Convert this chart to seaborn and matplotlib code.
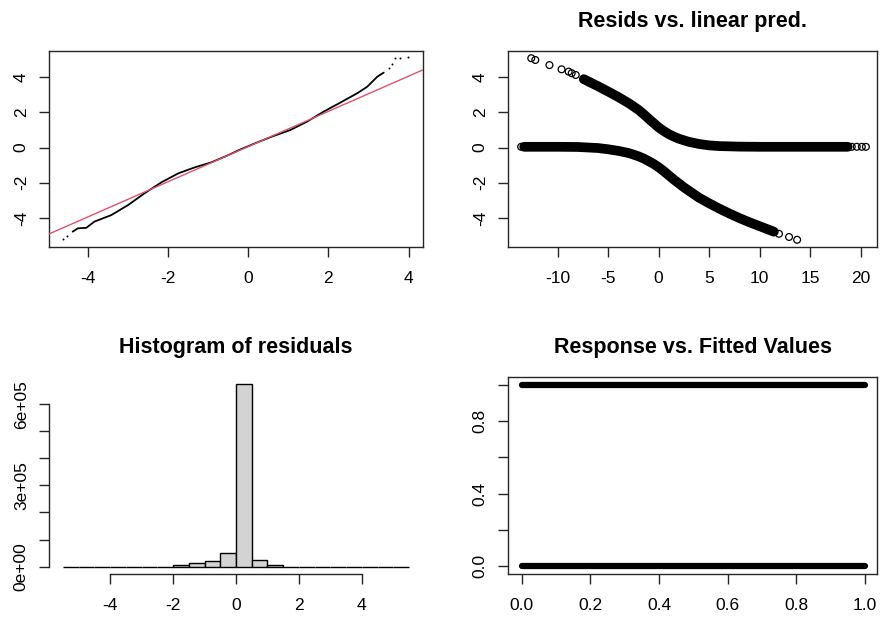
import matplotlib
matplotlib.use("Agg")
import matplotlib.pyplot as plt
import seaborn as sns

# ---------------- data ----------------
# Panel 1: QQ plot of deviance residuals
qq_theoretical = [-4.37, -4.24, -4.03, -3.83, -3.41, -2.99, -2.58, -2.16, -1.74, -1.33,
                  -0.91, -0.49, -0.20, 0.20, 0.63, 1.05, 1.47, 1.88, 2.30, 2.72,
                  2.97, 3.22, 3.38]
qq_sample = [-4.78, -4.59, -4.56, -4.21, -3.84, -3.27, -2.60, -1.98, -1.47, -1.13,
             -0.84, -0.43, -0.12, 0.26, 0.65, 0.99, 1.47, 2.03, 2.55, 3.08,
             3.45, 4.02, 4.25]
qq_tail_theoretical = [-4.62, -4.51, 3.51, 3.59, 3.65, 3.78, 3.98]
qq_tail_sample = [-5.20, -5.03, 4.50, 4.74, 5.07, 5.07, 5.13]
qq_ref_intercept = 0.05
qq_ref_slope = 1.0

# Panel 2: residuals vs linear predictor
eta_upper = [-7.4, -6.0, -5.0, -4.0, -3.0, -2.5, -2.0, -1.5, -1.0, -0.5, 0.0, 0.5,
             1.0, 1.5, 2.0, 3.0, 4.0, 5.0, 6.0, 8.0, 10.0, 12.0, 15.0, 18.7]
resid_upper = [3.88, 3.48, 3.18, 2.87, 2.53, 2.34, 2.14, 1.90, 1.64, 1.39, 1.14, 0.94,
               0.76, 0.62, 0.50, 0.32, 0.20, 0.12, 0.08, 0.05, 0.04, 0.04, 0.04, 0.04]
eta_lower = [-13.3, -10.0, -8.0, -6.0, -5.0, -4.0, -3.0, -2.5, -2.0, -1.5, -1.0, -0.5,
             0.0, 0.5, 1.0, 1.5, 2.0, 2.5, 3.0, 4.0, 5.0, 6.0, 7.0, 8.0, 9.0, 10.0, 11.4]
resid_lower = [0.04, 0.04, 0.03, -0.03, -0.10, -0.19, -0.31, -0.40, -0.50, -0.62, -0.77, -0.93,
               -1.12, -1.34, -1.58, -1.82, -2.04, -2.26, -2.46, -2.85, -3.17, -3.47, -3.75,
               -4.01, -4.25, -4.47, -4.78]
eta_outlier = [-12.6, -12.2, -10.8, -9.6, -8.9, -8.6, -8.2, -13.6,
               19.1, 19.6, 20.1, 20.5, 11.9, 12.9, 13.7]
resid_outlier = [5.07, 4.97, 4.68, 4.44, 4.31, 4.22, 4.12, 0.04,
                 0.04, 0.04, 0.04, 0.04, -4.90, -5.08, -5.24]

# Panel 3: histogram of residuals
hist_edges = [-5.5, -5.0, -4.5, -4.0, -3.5, -3.0, -2.5, -2.0, -1.5, -1.0, -0.5, 0.0,
              0.5, 1.0, 1.5, 2.0, 2.5, 3.0, 3.5, 4.0, 4.5, 5.0, 5.5]
hist_counts = [0, 0, 0, 0, 0, 0, 0, 6000, 12000, 21000, 52000, 673000,
               26000, 7000, 0, 0, 0, 0, 0, 0, 0, 0]
hist_yticks = [0, 100000, 200000, 300000, 400000, 500000, 600000]
hist_ylabels = ["0e+00", "", "", "3e+05", "", "", "6e+05"]

# Panel 4: response vs fitted values
fitted_range = [0.0, 1.0]
response_levels = [0, 1]
resp_yticks = [0.0, 0.2, 0.4, 0.6, 0.8, 1.0]
resp_ylabels = ["0.0", "", "0.4", "", "0.8", ""]

# ---------------- styling ----------------
sns.set_style("ticks")
plt.rcParams['font.family'] = ['Liberation Sans', 'DejaVu Sans']
plt.rcParams['text.color'] = 'black'
plt.rcParams['axes.edgecolor'] = '0.15'
plt.rcParams['axes.unicode_minus'] = False

W, H = 881, 624
fig = plt.figure(figsize=(W / 100, H / 100), dpi=100)


def add_axes(left, top, right, bottom):
    return fig.add_axes([left / W, 1 - bottom / H, (right - left) / W, (bottom - top) / H])


def style(ax, title=None):
    ax.tick_params(axis='both', direction='out', length=7, width=1, labelsize=12.5,
                   colors='0.15', labelcolor='black', bottom=True, left=True)
    ax.tick_params(axis='x', pad=10)
    ax.tick_params(axis='y', pad=7.5, labelrotation=90)
    for lab in ax.get_yticklabels():
        lab.set_va('center')
    for s in ax.spines.values():
        s.set_linewidth(1)
    ax.set_xlabel('')
    ax.set_ylabel('')
    if title:
        ax.set_title(title, fontsize=15.5, fontweight='bold', pad=17)


# Panel 1
ax1 = add_axes(49, 51, 423, 247)
sns.lineplot(x=qq_theoretical, y=qq_sample, color='black', lw=1.3, sort=False,
             estimator=None, ax=ax1)
sns.scatterplot(x=qq_tail_theoretical, y=qq_tail_sample, color='black', s=2,
                linewidth=0, ax=ax1)
ax1.axline((0, qq_ref_intercept), slope=qq_ref_slope, color='#DF536B', lw=1, zorder=5)
ax1.set_xlim(-4.96, 4.36)
ax1.set_ylim(-5.65, 5.48)
ax1.set_xticks([-4, -2, 0, 2, 4])
ax1.set_yticks([-4, -2, 0, 2, 4])
style(ax1)

# Panel 2
ax2 = add_axes(508, 51, 877, 247)
sns.lineplot(x=eta_upper, y=resid_upper, color='black', lw=7, sort=False,
             estimator=None, solid_capstyle='round', solid_joinstyle='round', ax=ax2)
sns.lineplot(x=eta_lower, y=resid_lower, color='black', lw=7, sort=False,
             estimator=None, solid_capstyle='round', solid_joinstyle='round', ax=ax2)
sns.scatterplot(x=eta_outlier, y=resid_outlier, marker='o', s=24, facecolor='none',
                edgecolor='black', linewidth=0.9, ax=ax2)
ax2.set_xlim(-14.9, 21.6)
ax2.set_ylim(-5.65, 5.48)
ax2.set_xticks([-10, -5, 0, 5, 10, 15, 20])
ax2.set_yticks([-4, -2, 0, 2, 4])
style(ax2, "Resids vs. linear pred.")

# Panel 3
ax3 = add_axes(49, 377, 423, 574)
centers = [(a + b) / 2 for a, b in zip(hist_edges[:-1], hist_edges[1:])]
sns.histplot(x=centers, weights=hist_counts, bins=hist_edges, color='#D3D3D3',
             edgecolor='black', linewidth=1, alpha=1, ax=ax3)
ax3.set_xlim(-5.94, 5.94)
ax3.set_ylim(-0.04 * max(hist_counts), 1.04 * max(hist_counts))
ax3.set_xticks([-4, -2, 0, 2, 4])
ax3.set_yticks(hist_yticks)
ax3.set_yticklabels(hist_ylabels)
ax3.spines['top'].set_visible(False)
ax3.spines['right'].set_visible(False)
ax3.spines['bottom'].set_bounds(-4, 4)
ax3.spines['left'].set_bounds(0, 600000)
style(ax3, "Histogram of residuals")

# Panel 4
ax4 = add_axes(508, 377, 877, 574)
for lvl in response_levels:
    sns.lineplot(x=fitted_range, y=[lvl] * len(fitted_range), color='black', lw=4.5,
                 solid_capstyle='round', estimator=None, ax=ax4)
ax4.set_xlim(-0.04, 1.035)
ax4.set_ylim(-0.044, 1.044)
ax4.set_xticks([0.0, 0.2, 0.4, 0.6, 0.8, 1.0])
ax4.set_xticklabels(["0.0", "0.2", "0.4", "0.6", "0.8", "1.0"])
ax4.set_yticks(resp_yticks)
ax4.set_yticklabels(resp_ylabels)
style(ax4, "Response vs. Fitted Values")

fig.savefig("out.png", dpi=100)
